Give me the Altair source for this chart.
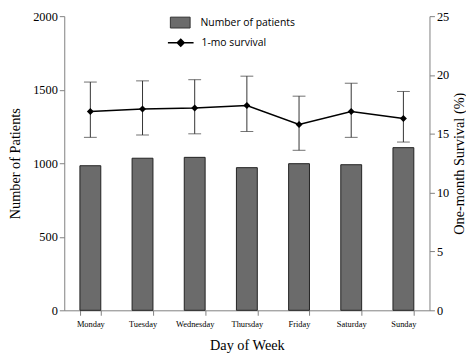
import altair as alt
import pandas as pd

days = ["Monday", "Tuesday", "Wednesday", "Thursday", "Friday", "Saturday", "Sunday"]
patients = [983, 1034, 1040, 970, 997, 990, 1106]
survival = [16.9, 17.1, 17.2, 17.4, 15.8, 16.9, 16.3]
upper = [19.4, 19.5, 19.6, 19.9, 18.2, 19.3, 18.6]
lower = [14.7, 14.9, 15.0, 15.2, 13.6, 14.7, 14.3]

df = pd.DataFrame({
    "day": days, "patients": patients, "survival": survival,
    "upper": upper, "lower": lower,
    "s1": ["Number of patients"] * 7, "s2": ["1-mo survival"] * 7,
})

serif = "Liberation Serif"
sans = "Open Sans"

xscale = alt.Scale(type="band", domain=days, paddingInner=0.6, paddingOuter=0.3)
xenc = alt.X("day:N", scale=xscale, sort=days,
             axis=alt.Axis(title="Day of Week", labelAngle=0, tickBand="extent",
                           labelFont=serif, labelFontSize=8.5, titleFont=serif,
                           titleFontSize=14.5, titleFontWeight="normal", titlePadding=11,
                           labelPadding=4))

bars = alt.Chart(df).mark_bar(stroke="#222222", strokeWidth=1).encode(
    x=xenc,
    y=alt.Y("patients:Q", scale=alt.Scale(domain=[0, 2000]),
            axis=alt.Axis(title="Number of Patients", values=[0, 500, 1000, 1500, 2000],
                          format="d",
                          labelFont=serif, labelFontSize=12.5, titleFont=serif,
                          titleFontSize=14.5, titleFontWeight="normal", titlePadding=10,
                          grid=False)),
    fill=alt.Fill("s1:N", scale=alt.Scale(range=["#6b6b6b"]),
                  legend=alt.Legend(title=None, orient="none", legendX=107, legendY=-4,
                                    symbolType="M-1,-0.55H1V0.55H-1Z", symbolSize=400,
                                    symbolStrokeColor="#333333", symbolStrokeWidth=1,
                                    labelFont=sans, labelFontSize=10.5, labelOffset=10,
                                    padding=0)),
)

axR = alt.Axis(title="One-month Survival (%)", orient="right",
               values=[0, 5, 10, 15, 20, 25], format="d", labelFont=serif, labelFontSize=12.5,
               titleFont=serif, titleFontSize=14.5, titleFontWeight="normal",
               titleAngle=270, titleBaseline="top", titlePadding=4, grid=False)
scR = alt.Scale(domain=[0, 25])

line = alt.Chart(df).mark_line(strokeWidth=1.5).encode(
    x=alt.X("day:N", scale=xscale, sort=days),
    y=alt.Y("survival:Q", scale=scR, axis=axR),
    stroke=alt.Stroke("s2:N", scale=alt.Scale(range=["black"]),
                      legend=alt.Legend(title=None, orient="none", legendX=107, legendY=16,
                                        symbolType="M-1.3,0H1.3M0,-0.35L0.35,0L0,0.35L-0.35,0Z",
                                        symbolSize=400, symbolFillColor="black",
                                        symbolStrokeColor="black", symbolStrokeWidth=1.5,
                                        labelFont=sans, labelFontSize=10.5, labelOffset=10,
                                        padding=0)),
)
pts = alt.Chart(df).mark_point(shape="diamond", filled=True, color="black", size=50, opacity=1).encode(
    x=alt.X("day:N", scale=xscale, sort=days),
    y=alt.Y("survival:Q", scale=scR, axis=axR),
)
rules = alt.Chart(df).mark_rule(color="#333333", strokeWidth=1).encode(
    x=alt.X("day:N", scale=xscale, sort=days),
    y=alt.Y("lower:Q", scale=scR, axis=axR),
    y2="upper:Q",
)
capU = alt.Chart(df).mark_tick(color="#333333", thickness=1, size=13, orient="horizontal").encode(
    x=alt.X("day:N", scale=xscale, sort=days),
    y=alt.Y("upper:Q", scale=scR, axis=axR),
)
capL = alt.Chart(df).mark_tick(color="#333333", thickness=1, size=13, orient="horizontal").encode(
    x=alt.X("day:N", scale=xscale, sort=days),
    y=alt.Y("lower:Q", scale=scR, axis=axR),
)

right = alt.layer(line, rules, capU, capL, pts)

chart = alt.layer(bars, right).resolve_scale(y="independent", fill="independent", stroke="independent").properties(
    width=370, height=298, padding={"left": 0, "top": 0, "right": 0, "bottom": 0}
).configure_view(stroke=None).configure_axis(
    domainColor="#808080", tickColor="#808080", labelColor="black", titleColor="black", tickSize=5
)

chart.save("out.html", embed_options={"renderer": "svg", "actions": False})
